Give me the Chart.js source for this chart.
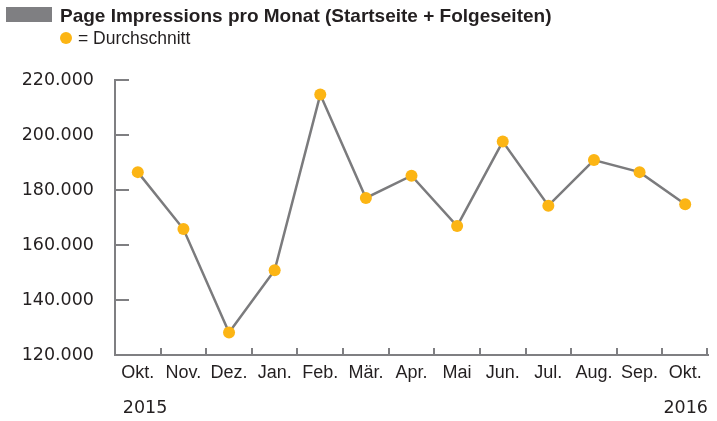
<!DOCTYPE html>
<html>
<head>
<meta charset="utf-8">
<script src="https://cdn.jsdelivr.net/npm/chart.js@4"></script>
<style>
  html, body { margin: 0; padding: 0; background: #ffffff; }
  #wrap { width: 717px; height: 421px; }
</style>
</head>
<body>
<div id="wrap"><canvas id="c" width="717" height="421"></canvas></div>
<script>
const months = ['Okt.', 'Nov.', 'Dez.', 'Jan.', 'Feb.', 'Mär.', 'Apr.', 'Mai', 'Jun.', 'Jul.', 'Aug.', 'Sep.', 'Okt.'];
const impressions = [186500, 165800, 128200, 150800, 214700, 177100, 185200, 166900, 197600, 174300, 190900, 186500, 174800];
const yearStart = '2015';
const yearEnd = '2016';
const titleText = 'Page Impressions pro Monat (Startseite + Folgeseiten)';
const legendText = '= Durchschnitt';
const yMin = 120000, yMax = 220000, yStep = 20000;

const GRAY = '#7f7f82';
const LINE = '#7b7b7d';
const DOT = '#fcb514';
const TEXT = '#231f20';

const fmt = v => v.toLocaleString('de-DE');

const decor = {
  id: 'decor',
  afterDraw(chart) {
    const ctx = chart.ctx;
    const ca = chart.chartArea;
    const xs = chart.scales.x, ys = chart.scales.y;
    ctx.save();
    // inward tick marks
    ctx.strokeStyle = GRAY;
    ctx.lineWidth = 2;
    ys.ticks.forEach(t => {
      const py = Math.round(ys.getPixelForValue(t.value));
      ctx.beginPath(); ctx.moveTo(ca.left, py); ctx.lineTo(ca.left + 14, py); ctx.stroke();
    });
    const n = months.length;
    for (let i = 1; i <= n; i++) {
      let px = i === n ? ca.right - 1 : (xs.getPixelForValue(i - 1) + xs.getPixelForValue(i)) / 2;
      px = Math.round(px);
      ctx.beginPath(); ctx.moveTo(px, ca.bottom); ctx.lineTo(px, ca.bottom - 7); ctx.stroke();
    }
    // years
    ctx.fillStyle = TEXT;
    ctx.font = '17.5px "DejaVu Sans"';
    ctx.textBaseline = 'alphabetic';
    ctx.textAlign = 'left';
    ctx.fillText(yearStart, xs.getPixelForValue(0) - 15, 412.5);
    ctx.textAlign = 'right';
    ctx.fillText(yearEnd, ca.right, 412.5);
    // legend / title
    ctx.fillStyle = GRAY;
    ctx.fillRect(6, 7, 46, 15);
    ctx.fillStyle = TEXT;
    ctx.textAlign = 'left';
    ctx.font = 'bold 19px "Liberation Sans"';
    ctx.fillText(titleText, 60, 21.7);
    ctx.fillStyle = DOT;
    ctx.beginPath(); ctx.arc(66, 38, 6, 0, Math.PI * 2); ctx.fill();
    ctx.fillStyle = TEXT;
    ctx.font = '17.5px "Liberation Sans"';
    ctx.fillText(legendText, 78, 44.3);
    ctx.restore();
  }
};

new Chart(document.getElementById('c'), {
  type: 'line',
  data: {
    labels: months,
    datasets: [{
      data: impressions,
      borderColor: LINE,
      borderWidth: 2.5,
      tension: 0,
      pointRadius: 6,
      pointHoverRadius: 6,
      pointBackgroundColor: DOT,
      pointBorderWidth: 0,
      clip: false
    }]
  },
  options: {
    responsive: false,
    animation: false,
    devicePixelRatio: 1,
    layout: { padding: { top: 80, right: 9, left: 0, bottom: 0 } },
    plugins: { legend: { display: false }, title: { display: false }, tooltip: { enabled: false } },
    scales: {
      x: {
        type: 'category',
        offset: true,
        grid: { display: false, drawTicks: false },
        border: { display: true, color: GRAY, width: 2 },
        ticks: {
          font: { family: 'Liberation Sans', size: 18 },
          color: TEXT,
          padding: 7,
          maxRotation: 0,
          autoSkip: false
        },
        afterFit: s => { s.height = 66; }
      },
      y: {
        min: yMin,
        max: yMax,
        grid: { display: false, drawTicks: false },
        border: { display: true, color: GRAY, width: 2 },
        ticks: {
          stepSize: yStep,
          font: { family: 'DejaVu Sans', size: 17.5 },
          color: TEXT,
          padding: 21,
          callback: v => fmt(v)
        },
        afterFit: s => { s.width = 115; }
      }
    }
  },
  plugins: [decor]
});
</script>
</body>
</html>
